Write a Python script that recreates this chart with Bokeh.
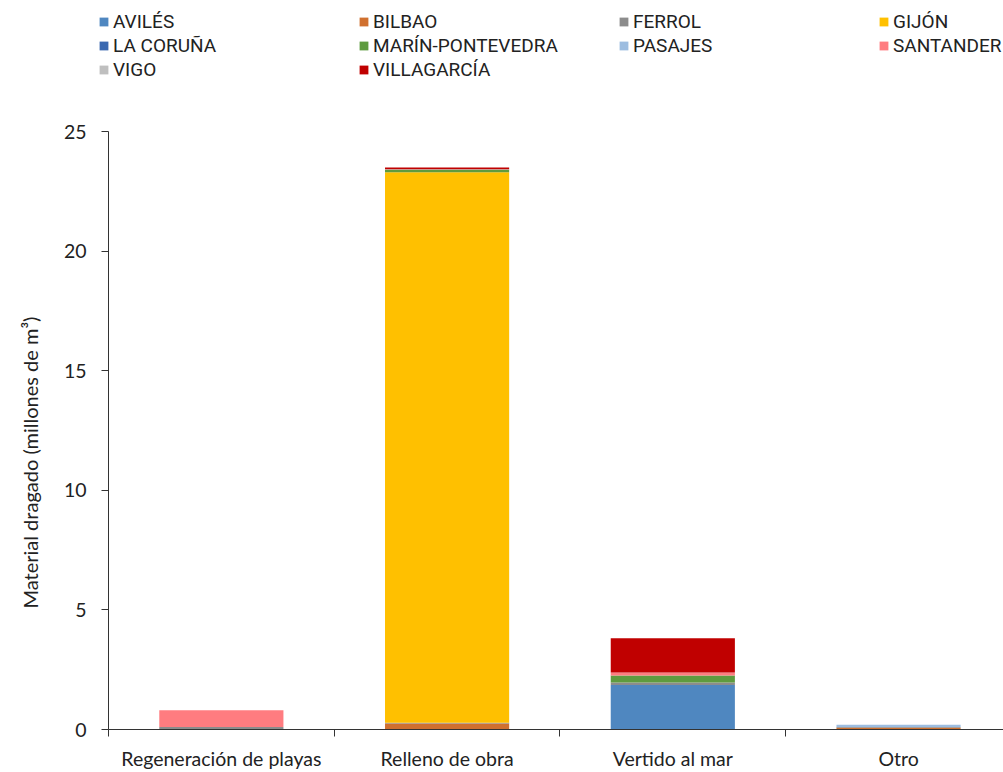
from bokeh.plotting import figure
from bokeh.models import (ColumnDataSource, Legend, LegendItem, FixedTicker, Range1d, Title)
from bokeh.embed import file_html
from bokeh.resources import INLINE

categories = ["Regeneración de playas", "Relleno de obra", "Vertido al mar", "Otro"]
ports = ["AVILÉS", "BILBAO", "FERROL", "GIJÓN", "LA CORUÑA",
         "MARÍN-PONTEVEDRA", "PASAJES", "SANTANDER", "VIGO", "VILLAGARCÍA"]
aviles = [0.0, 0.0, 1.86, 0.0]
bilbao = [0.0, 0.25, 0.0, 0.07]
ferrol = [0.10, 0.03, 0.10, 0.03]
gijon = [0.0, 23.02, 0.0, 0.0]
la_coruna = [0.0, 0.0, 0.0, 0.0]
marin = [0.0, 0.10, 0.30, 0.0]
pasajes = [0.0, 0.0, 0.0, 0.10]
santander = [0.70, 0.0, 0.12, 0.0]
vigo = [0.0, 0.02, 0.0, 0.0]
villagarcia = [0.0, 0.08, 1.43, 0.0]
y_ticks = [0, 5, 10, 15, 20, 25]

colors = ["#4F87C0", "#D0702F", "#8C8C8C", "#FFC000", "#3A68B0",
          "#5E9B3F", "#9DBDE0", "#FF7C80", "#BFBFBF", "#C00000"]

series = [aviles, bilbao, ferrol, gijon, la_coruna, marin, pasajes,
          santander, vigo, villagarcia]
keys = ["s%d" % i for i in range(len(ports))]
data = {"x": [i + 0.5 for i in range(len(categories))]}
for k, s in zip(keys, series):
    data[k] = s
source = ColumnDataSource(data)

# ---- legend strip (separate figure on top; its renderers are hidden) ----
leg = figure(width=1003, height=100, output_backend="svg", toolbar_location=None,
             x_range=Range1d(0, 1), y_range=Range1d(0, 1),
             min_border=0, outline_line_color=None,
             x_axis_location=None, y_axis_location=None)
leg.xgrid.visible = False
leg.ygrid.visible = False
leg_renderers = leg.vbar_stack(keys, x="x", width=0.55, source=source,
                               color=colors, line_color=None)
for r in leg_renderers:
    r.visible = False
items = [LegendItem(label=n, renderers=[r]) for n, r in zip(ports, leg_renderers)]
legend = Legend(items=items, orientation="horizontal", ncols=4,
                location=(98, 19), glyph_width=11, glyph_height=11,
                label_standoff=4, label_width=244, label_height=18,
                spacing=1, padding=0, margin=0,
                border_line_color=None, background_fill_alpha=0,
                inactive_fill_alpha=0,
                label_text_font="Roboto",
                label_text_font_size="19px", label_text_color="#222222")
leg.add_layout(legend, "center")

# ---- main chart ----
p = figure(width=1003, height=672, output_backend="svg", toolbar_location=None,
           x_range=Range1d(0, 3.965), y_range=Range1d(0, 25),
           min_border_left=107, min_border_right=0, min_border_top=31,
           min_border_bottom=39, outline_line_color=None)

p.vbar_stack(keys, x="x", width=0.55, source=source,
             color=colors, line_color=None)

p.xgrid.visible = False
p.ygrid.visible = False

font = "Lato"
p.xaxis.ticker = FixedTicker(ticks=[0.5, 1.5, 2.5, 3.5], minor_ticks=[0, 1, 2, 3, 4])
p.xaxis.major_label_overrides = {i + 0.5: c for i, c in enumerate(categories)}
p.xaxis.major_tick_line_color = None
p.xaxis.minor_tick_in = 0
p.xaxis.minor_tick_out = 7
p.xaxis.minor_tick_line_color = "#333333"
p.xaxis.axis_line_color = "#333333"
p.xaxis.major_label_text_font = font
p.xaxis.major_label_text_font_size = "19.5px"
p.xaxis.major_label_text_color = "#222222"
p.xaxis.major_label_standoff = 10

p.yaxis.ticker = FixedTicker(ticks=y_ticks)
p.yaxis.minor_tick_line_color = None
p.yaxis.major_tick_in = 0
p.yaxis.major_tick_out = 7
p.yaxis.major_tick_line_color = "#333333"
p.yaxis.axis_line_color = "#333333"
p.yaxis.major_label_text_font = font
p.yaxis.major_label_text_font_size = "19.5px"
p.yaxis.major_label_text_color = "#222222"
p.yaxis.major_label_standoff = 15

ylabel = Title(text="Material dragado (millones de m³)", align="left", offset=121,
               text_font=font, text_font_style="normal", text_font_size="20px",
               text_color="#222222", standoff=34, vertical_align="top")
p.add_layout(ylabel, "left")

open("out.html", "w").write(file_html([leg, p], INLINE))
